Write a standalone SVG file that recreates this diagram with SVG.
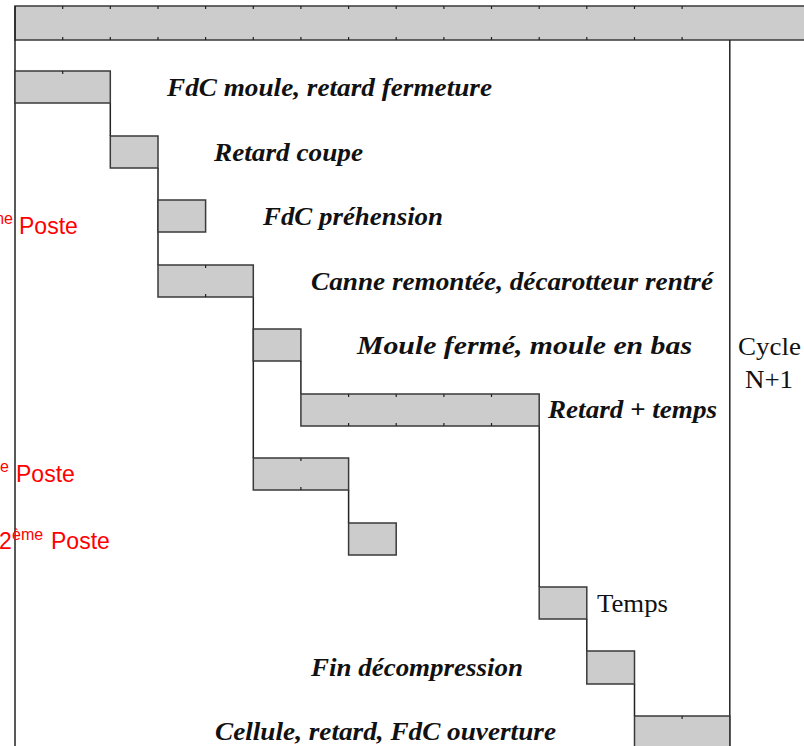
<svg xmlns="http://www.w3.org/2000/svg" width="804" height="746" viewBox="0 0 804 746">
  <style>
    .bar { fill: #cccccc; stroke: #3a3a3a; stroke-width: 1.5; }
    .line { fill: none; stroke: #222222; stroke-width: 1.5; }
    .tick { stroke: #222222; stroke-width: 1.2; }
    .step { font-family: "Liberation Serif", "Times New Roman", serif; font-weight: bold; font-style: italic; font-size: 25px; fill: #111111; }
    .plain { font-family: "Liberation Serif", "Times New Roman", serif; font-size: 25px; fill: #111111; }
    .poste { font-family: "Liberation Sans", Arial, sans-serif; font-size: 23px; fill: #ff0000; }
    .sup { font-size: 16px; }
  </style>

  <rect width="804" height="746" fill="#ffffff"/>

  <!-- time axis header -->
  <g id="header">
    <rect class="bar" x="15" y="6" width="795" height="34"/>
    <path class="tick" d="M62.7 6v3M110.3 6v3M158 6v3M205.6 6v3M253.3 6v3M300.9 6v3M348.6 6v3M396.2 6v3M443.9 6v3M491.5 6v3M539.2 6v3M586.8 6v3M634.5 6v3M682.1 6v3
                           M62.7 40v-3M110.3 40v-3M158 40v-3M205.6 40v-3M253.3 40v-3M300.9 40v-3M348.6 40v-3M396.2 40v-3M443.9 40v-3M491.5 40v-3M539.2 40v-3M586.8 40v-3M634.5 40v-3M682.1 40v-3"/>
  </g>

  <!-- step links and frame lines -->
  <g id="connectors">
    <path class="line" d="M15 6V746"/>
    <path class="line" d="M729.8 40V746"/>
    <path class="line" d="M110.3 103V136"/>
    <path class="line" d="M158 168V265"/>
    <path class="line" d="M253.3 297V458"/>
    <path class="line" d="M300.9 361V394"/>
    <path class="line" d="M348.6 490V523"/>
    <path class="line" d="M539.2 426V587"/>
    <path class="line" d="M586.8 619V651"/>
    <path class="line" d="M634.5 684V716"/>
  </g>

  <g id="step1">
    <rect class="bar" x="15" y="71" width="95.3" height="32"/>
    <path class="tick" d="M62.7 71v3"/>
    <text class="step" x="167" y="96" textLength="325" lengthAdjust="spacingAndGlyphs">FdC moule, retard fermeture</text>
  </g>

  <g id="step2">
    <rect class="bar" x="110.3" y="136" width="47.7" height="32"/>
    <text class="step" x="214" y="161" textLength="149" lengthAdjust="spacingAndGlyphs">Retard coupe</text>
  </g>

  <g id="step3">
    <rect class="bar" x="158" y="200" width="47.6" height="32"/>
    <text class="step" x="263" y="225" textLength="180" lengthAdjust="spacingAndGlyphs">FdC préhension</text>
  </g>

  <g id="step4">
    <rect class="bar" x="158" y="265" width="95.3" height="32"/>
    <path class="tick" d="M205.6 265v3M205.6 297v-3"/>
    <text class="step" x="311" y="290" textLength="402" lengthAdjust="spacingAndGlyphs">Canne remontée, décarotteur rentré</text>
  </g>

  <g id="step5">
    <rect class="bar" x="253.3" y="329" width="47.6" height="32"/>
    <text class="step" x="357" y="354" textLength="335" lengthAdjust="spacingAndGlyphs">Moule fermé, moule en bas</text>
  </g>

  <g id="step6">
    <rect class="bar" x="300.9" y="394" width="238.3" height="32"/>
    <path class="tick" d="M348.6 394v3M396.2 394v3M443.9 394v3M491.5 394v3M348.6 426v-3M396.2 426v-3M443.9 426v-3M491.5 426v-3"/>
    <text class="step" x="548" y="418" textLength="169" lengthAdjust="spacingAndGlyphs">Retard + temps</text>
  </g>

  <g id="step7">
    <rect class="bar" x="253.3" y="458" width="95.3" height="32"/>
    <path class="tick" d="M300.9 458v3M300.9 490v-3"/>
  </g>

  <g id="step8">
    <rect class="bar" x="348.6" y="523" width="47.6" height="32"/>
  </g>

  <g id="step9">
    <rect class="bar" x="539.2" y="587" width="47.6" height="32"/>
    <text class="plain" x="597" y="612" textLength="71" lengthAdjust="spacingAndGlyphs">Temps</text>
  </g>

  <g id="step10">
    <rect class="bar" x="586.8" y="651" width="47.7" height="33"/>
    <text class="step" x="311" y="676" textLength="212" lengthAdjust="spacingAndGlyphs">Fin décompression</text>
  </g>

  <g id="step11">
    <rect class="bar" x="634.5" y="716" width="95.3" height="34"/>
    <path class="tick" d="M682.1 716v3"/>
    <text class="step" x="215" y="740" textLength="341" lengthAdjust="spacingAndGlyphs">Cellule, retard, FdC ouverture</text>
  </g>

  <g id="cycle">
    <text class="plain" x="738" y="355" textLength="63" lengthAdjust="spacingAndGlyphs">Cycle</text>
    <text class="plain" x="745" y="388" textLength="48" lengthAdjust="spacingAndGlyphs">N+1</text>
  </g>

  <!-- station labels -->
  <g id="poste-a">
    <text class="poste" x="13" y="224" text-anchor="end"><tspan class="sup">ème</tspan></text>
    <text class="poste" x="19" y="234">Poste</text>
  </g>
  <g id="poste-b">
    <text class="poste" x="9" y="472" text-anchor="end"><tspan class="sup">e</tspan></text>
    <text class="poste" x="16" y="482">Poste</text>
  </g>
  <g id="poste-c">
    <text class="poste" x="-1" y="549">2</text>
    <text class="poste sup" x="12" y="540">ème</text>
    <text class="poste" x="51" y="549">Poste</text>
  </g>
</svg>
